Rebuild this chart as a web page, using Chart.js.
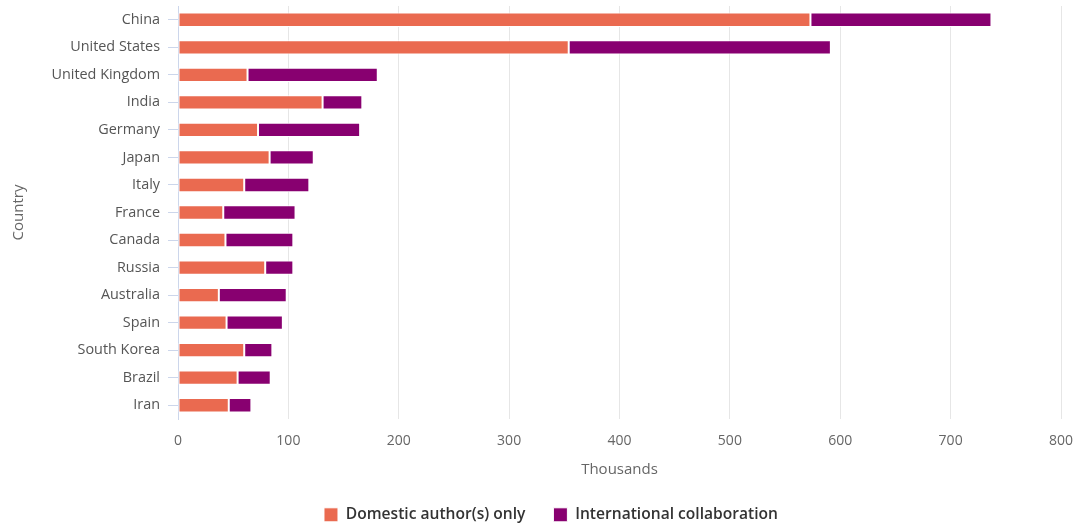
<!DOCTYPE html>
<html>
<head>
<meta charset="utf-8">
<script src="https://cdn.jsdelivr.net/npm/chart.js@4/dist/chart.umd.min.js"></script>
<style>
  html, body { margin: 0; padding: 0; background: #fff; }
  #wrap { width: 1077px; height: 527px; }
</style>
</head>
<body>
<div id="wrap"><canvas id="chart"></canvas></div>
<script>
const countries = ["China", "United States", "United Kingdom", "India", "Germany", "Japan", "Italy",
  "France", "Canada", "Russia", "Australia", "Spain", "South Korea", "Brazil", "Iran"];
const domestic = [573, 354, 63, 131, 72.5, 83, 60, 41, 43, 79, 37, 44, 60, 54, 46];
const international = [164, 237.5, 118, 36, 92.5, 40, 59, 65.5, 61.5, 25.5, 61.5, 51, 25.5, 30, 20.5];
const xTicks = [0, 100, 200, 300, 400, 500, 600, 700, 800];

const font = "'Open Sans', 'Noto Sans', sans-serif";
Chart.defaults.font.family = font;
Chart.defaults.color = "#666";

// legend height fixed so the row sits close to the bottom edge
const legendHeight = {
  id: "legendHeight",
  beforeInit(chart) {
    const fit = chart.legend.fit;
    chart.legend.fit = function () {
      fit.bind(chart.legend)();
      this.height = 48;
    };
  }
};

document.addEventListener("DOMContentLoaded", () => {
  const ctx = document.getElementById("chart").getContext("2d");
  new Chart(ctx, {
    type: "bar",
    data: {
      labels: countries,
      datasets: [
        {
          label: "Domestic author(s) only",
          data: domestic,
          backgroundColor: "#EA6A50",
          borderColor: "#ffffff",
          borderWidth: 1,
          borderSkipped: false
        },
        {
          label: "International collaboration",
          data: international,
          backgroundColor: "#880070",
          borderColor: "#ffffff",
          borderWidth: 1,
          borderSkipped: false
        }
      ]
    },
    plugins: [legendHeight],
    options: {
      indexAxis: "y",
      responsive: true,
      maintainAspectRatio: false,
      animation: false,
      datasets: {
        bar: { barPercentage: 0.52, categoryPercentage: 1 }
      },
      layout: { padding: { top: 6, right: 16, left: 41, bottom: 0 } },
      scales: {
        x: {
          stacked: true,
          min: 0,
          max: 800,
          afterBuildTicks: scale => {
            scale.ticks = xTicks.map(v => ({ value: v }));
          },
          afterFit: scale => {
            scale.height = 60;
            scale.paddingLeft = 0;
            scale.paddingRight = 0;
          },
          grid: { color: "#e6e6e6", drawTicks: false },
          border: { display: false },
          ticks: { padding: 14, color: "#666", font: { size: 14 } },
          title: {
            display: true,
            text: "Thousands",
            color: "#666",
            font: { size: 15 },
            padding: { top: 4, bottom: 0 }
          }
        },
        y: {
          stacked: true,
          afterFit: scale => {
            scale.width = 137;
            scale.paddingTop = 0;
            scale.paddingBottom = 0;
          },
          grid: { offset: false, drawOnChartArea: false, drawTicks: true, tickLength: 10, color: "#ccd6eb" },
          border: { display: true, color: "#ccd6eb" },
          ticks: { padding: 8, color: "#555", font: { size: 14.4 } },
          title: {
            display: true,
            text: "Country",
            color: "#666",
            font: { size: 15 },
            padding: { top: -31, bottom: 0 }
          }
        }
      },
      plugins: {
        legend: {
          position: "bottom",
          labels: {
            boxWidth: 14,
            boxHeight: 14,
            padding: 28,
            color: "#333",
            font: { size: 15.6, weight: "600" }
          }
        },
        tooltip: { enabled: false }
      }
    }
  });
});
</script>
</body>
</html>
